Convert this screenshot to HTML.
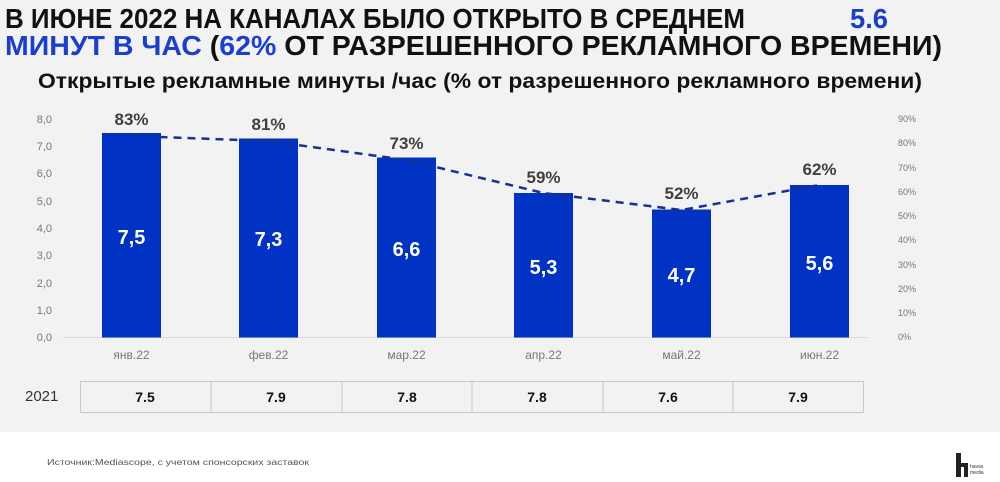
<!DOCTYPE html>
<html><head><meta charset="utf-8"><style>
body{margin:0;background:#fff;}
svg{display:block;font-family:"Liberation Sans",sans-serif;}
</style></head><body>
<svg width="1000" height="482" viewBox="0 0 1000 482">
<rect x="0" y="0" width="1000" height="432" fill="#f2f2f2"/>
<text x="5" y="28" font-size="28" font-weight="bold" fill="#111" textLength="740" lengthAdjust="spacingAndGlyphs">В ИЮНЕ 2022 НА КАНАЛАХ БЫЛО ОТКРЫТО В СРЕДНЕМ</text>
<text x="850" y="28" font-size="28" font-weight="bold" fill="#1a3fcf" textLength="38" lengthAdjust="spacingAndGlyphs">5.6</text>
<text x="5" y="55" font-size="28" font-weight="bold" fill="#111" textLength="937" lengthAdjust="spacingAndGlyphs"><tspan fill="#1a3fcf">МИНУТ В ЧАС</tspan> (<tspan fill="#1a3fcf">62%</tspan> ОТ РАЗРЕШЕННОГО РЕКЛАМНОГО ВРЕМЕНИ)</text>
<text x="38" y="88" font-size="21" font-weight="bold" fill="#111" textLength="884" lengthAdjust="spacingAndGlyphs">Открытые рекламные минуты /час (% от разрешенного рекламного времени)</text>
<g font-size="11" fill="#777" text-anchor="end">
<text x="52" y="123">8,0</text><text x="52" y="150">7,0</text><text x="52" y="177">6,0</text><text x="52" y="205">5,0</text><text x="52" y="232">4,0</text><text x="52" y="259">3,0</text><text x="52" y="287">2,0</text><text x="52" y="314">1,0</text><text x="52" y="341">0,0</text>
</g>
<g font-size="9" fill="#777">
<text x="898" y="122">90%</text><text x="898" y="146">80%</text><text x="898" y="171">70%</text><text x="898" y="195">60%</text><text x="898" y="219">50%</text><text x="898" y="243">40%</text><text x="898" y="268">30%</text><text x="898" y="292">20%</text><text x="898" y="316">10%</text><text x="898" y="340">0%</text>
</g>
<line x1="63" y1="337.5" x2="868" y2="337.5" stroke="#d9d9d9"/>
<g fill="#0033c4">
<rect x="102" y="133" width="59" height="204.5"/>
<rect x="239" y="138.5" width="59" height="199"/>
<rect x="377" y="157.5" width="59" height="180"/>
<rect x="514" y="193" width="59" height="144.5"/>
<rect x="652" y="209.5" width="59" height="128"/>
<rect x="790" y="185" width="59" height="152.5"/>
</g>
<polyline points="131.5,136 268.5,141 406.5,160 543.5,193 681.5,210 819.5,185" fill="none" stroke="#1a2f8f" stroke-width="2.5" stroke-dasharray="8,6"/>
<g font-size="20" font-weight="bold" fill="#fff" text-anchor="middle">
<text x="131.5" y="244">7,5</text><text x="268.5" y="246">7,3</text><text x="406.5" y="256">6,6</text><text x="543.5" y="274">5,3</text><text x="681.5" y="282">4,7</text><text x="819.5" y="270">5,6</text>
</g>
<g font-size="17" font-weight="bold" fill="#404040" text-anchor="middle">
<text x="131.5" y="125">83%</text><text x="268.5" y="130">81%</text><text x="406.5" y="149">73%</text><text x="543.5" y="183">59%</text><text x="681.5" y="199">52%</text><text x="819.5" y="175">62%</text>
</g>
<g font-size="12" fill="#777" text-anchor="middle">
<text x="131.5" y="359">янв.22</text><text x="268.5" y="359">фев.22</text><text x="406.5" y="359">мар.22</text><text x="543.5" y="359">апр.22</text><text x="681.5" y="359">май.22</text><text x="819.5" y="359">июн.22</text>
</g>
<text x="25" y="401" font-size="15" fill="#333">2021</text>
<g fill="none" stroke="#c8c8c8" stroke-width="1">
<rect x="80.5" y="381.5" width="783" height="31"/>
<line x1="211" y1="381" x2="211" y2="413"/><line x1="342" y1="381" x2="342" y2="413"/><line x1="472" y1="381" x2="472" y2="413"/><line x1="603" y1="381" x2="603" y2="413"/><line x1="733" y1="381" x2="733" y2="413"/>
</g>
<g font-size="14" font-weight="bold" fill="#111" text-anchor="middle">
<text x="145" y="402">7.5</text><text x="276" y="402">7.9</text><text x="407" y="402">7.8</text><text x="537" y="402">7.8</text><text x="668" y="402">7.6</text><text x="798" y="402">7.9</text>
</g>
<text x="47" y="465" font-size="8" fill="#555" textLength="262" lengthAdjust="spacingAndGlyphs">Источник:Mediascope, с учетом спонсорских заставок</text>
<rect x="956" y="453" width="5" height="24" fill="#222"/>
<rect x="956" y="463" width="12" height="4" fill="#222"/>
<rect x="964" y="463" width="4" height="14" fill="#222"/>
<text x="970" y="468" font-size="5" fill="#333">havas</text>
<text x="970" y="474" font-size="5" fill="#333">media</text>
</svg>
</body></html>
